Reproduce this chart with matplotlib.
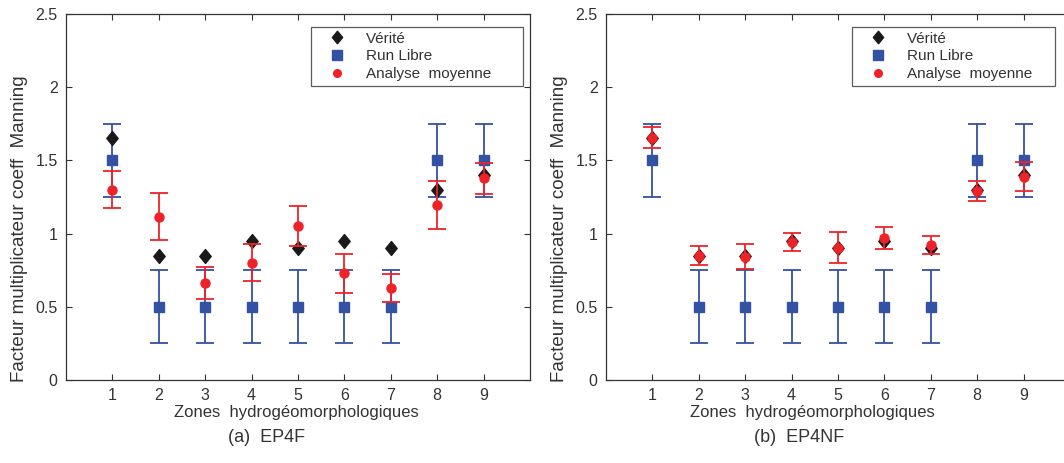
import matplotlib
matplotlib.use("Agg")
import matplotlib.pyplot as plt
from matplotlib.lines import Line2D
from matplotlib.path import Path
import numpy as np

plt.rcParams['font.family'] = ['Liberation Sans', 'DejaVu Sans']

zones = [1, 2, 3, 4, 5, 6, 7, 8, 9]
xtick_labels = ['1', '2', '3', '4', '5', '6', '7', '8', '9']

verite = [1.65, 0.85, 0.85, 0.95, 0.90, 0.95, 0.90, 1.30, 1.40]

run_libre = [1.5, 0.5, 0.5, 0.5, 0.5, 0.5, 0.5, 1.5, 1.5]
run_libre_err = [0.25, 0.25, 0.25, 0.25, 0.25, 0.25, 0.25, 0.25, 0.25]

# (a) EP4F
analyse_a = [1.30, 1.116, 0.664, 0.801, 1.052, 0.728, 0.628, 1.196, 1.379]
analyse_a_err = [0.125, 0.158, 0.11, 0.125, 0.136, 0.132, 0.094, 0.165, 0.106]

# (b) EP4NF
analyse_b = [1.655, 0.849, 0.842, 0.942, 0.902, 0.968, 0.922, 1.29, 1.39]
analyse_b_err = [0.073, 0.065, 0.087, 0.06, 0.106, 0.075, 0.062, 0.07, 0.1]

captions = ['(a)  EP4F', '(b)  EP4NF']
legend_labels = ['Vérité', 'Run Libre', 'Analyse  moyenne']
ylabel = 'Facteur multiplicateur coeff  Manning'
xlabel = 'Zones  hydrogéomorphologiques'

BLUE = '#3452A3'
RED = '#EE2229'
BLACK = '#1a1a1a'
GRAY = '#333333'

diamond = Path([(0, 1), (0.82, 0), (0, -1), (-0.82, 0), (0, 1)],
               [Path.MOVETO, Path.LINETO, Path.LINETO, Path.LINETO, Path.CLOSEPOLY])

W, H = 1064, 463
fig = plt.figure(figsize=(W / 100, H / 100), dpi=100)

ax_w = 464 / W
ax_h = 366 / H
ax_b = (H - 380) / H
lefts_px = [66, 606]
xlabel_centers = [296, 812]
caption_centers = [267, 799]
legend_boxes = [(245, 212), (246, 203)]

datasets = [(analyse_a, analyse_a_err), (analyse_b, analyse_b_err)]

for i, (lp, (ana, ana_err)) in enumerate(zip(lefts_px, datasets)):
    ax = fig.add_axes([lp / W, ax_b, ax_w, ax_h])
    ax.errorbar(zones, run_libre, yerr=run_libre_err, fmt='s', color=BLUE,
                markersize=7, capsize=6.5, elinewidth=1.3, capthick=1.3,
                zorder=2)
    ax.plot(zones, verite, marker=diamond, color=BLACK, markersize=10,
            zorder=3, linestyle='none')
    ax.errorbar(zones, ana, yerr=ana_err, fmt='o', color=RED,
                markersize=6.5, capsize=6.5, elinewidth=1.3, capthick=1.3,
                zorder=4)
    ax.set_xlim(0, 10)
    ax.set_ylim(0, 2.5)
    ax.set_xticks(zones)
    ax.set_xticklabels(xtick_labels)
    ax.set_yticks([0, 0.5, 1, 1.5, 2, 2.5])
    ax.set_yticklabels(['0', '0.5', '1', '1.5', '2', '2.5'])
    ax.tick_params(direction='in', top=True, right=True, length=4,
                   width=0.8, colors=GRAY, labelsize=11.5, pad=6)
    for s in ax.spines.values():
        s.set_color(GRAY)
        s.set_linewidth(0.9)
    ax.set_ylabel(ylabel, fontsize=13.5, color=GRAY)
    ax.yaxis.set_label_coords(-(66 - 20) / 464, (380 - 229) / 366)
    ax.yaxis.label.set_va('center')
    ax.set_xlabel(xlabel, fontsize=12, color=GRAY)
    ax.xaxis.set_label_coords((xlabel_centers[i] - lp) / 464, -(413 - 380) / 366)
    ax.xaxis.label.set_va('center')

    handles = [
        Line2D([], [], marker=diamond, color=BLACK, linestyle='none', markersize=9),
        Line2D([], [], marker='s', color=BLUE, linestyle='none', markersize=6.5),
        Line2D([], [], marker='o', color=RED, linestyle='none', markersize=5.5),
    ]
    lx, lw = legend_boxes[i]
    leg = ax.legend(handles, legend_labels, loc='upper left',
                    bbox_to_anchor=(lx / 464, 0.5, lw / 464, (380 - 27) / 366 - 0.5),
                    mode='expand', borderaxespad=0, fontsize=11,
                    frameon=True, fancybox=False, borderpad=0.3,
                    labelspacing=0.25, handlelength=2.8, handletextpad=0.5)
    leg.get_frame().set_edgecolor(GRAY)
    leg.get_frame().set_linewidth(0.9)
    for t in leg.get_texts():
        t.set_color(GRAY)

    fig.text(caption_centers[i] / W, 1 - 437 / H, captions[i], ha='center',
             va='center', fontsize=13, color=GRAY)

fig.savefig('out.png', dpi=100)
